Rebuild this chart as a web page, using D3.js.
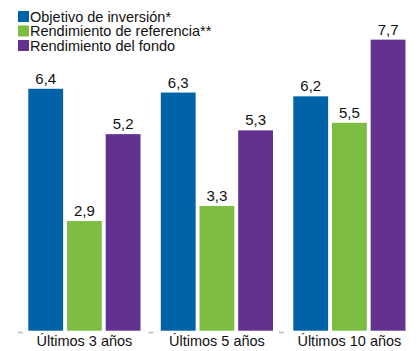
<!DOCTYPE html>
<html>
<head>
<meta charset="utf-8">
<script src="https://cdn.jsdelivr.net/npm/d3@7"></script>
<style>
  body { margin: 0; background: #fff; }
  text { font-family: "Liberation Sans", Arial, sans-serif; fill: #111; }
</style>
</head>
<body>
<svg id="chart" width="417" height="351"></svg>
<script>
// periods on the x axis
const periods = ['Últimos 3 años', 'Últimos 5 años', 'Últimos 10 años'];
// series names (legend order)
const seriesNames = ['Objetivo de inversión*', 'Rendimiento de referencia**', 'Rendimiento del fondo'];
const seriesColors = ['#0062a7', '#7dbd42', '#633290'];
// values per series, one per period
const objetivo = [6.4, 6.3, 6.2];
const referencia = [2.9, 3.3, 5.5];
const fondo = [5.2, 5.3, 7.7];

const seriesValues = [objetivo, referencia, fondo];
const fmt = v => d3.format('.1f')(v).replace('.', ',');

const svg = d3.select('#chart');

// scales
const x0 = d3.scaleBand().domain(periods).range([20.5, 418]);
const x1 = d3.scaleBand().domain(d3.range(seriesNames.length))
  .range([7.8, 120]).paddingInner(0.1);
const y = d3.scaleLinear().domain([0, 8]).range([330.7, 28.3]);

// bars, grouped by period
const groups = svg.append('g').selectAll('g.period')
  .data(periods)
  .join('g')
  .attr('class', 'period')
  .attr('transform', d => `translate(${x0(d)},0)`);

const cells = groups.selectAll('g.cell')
  .data((p, i) => seriesValues.map((vals, s) => ({ s, v: vals[i] })))
  .join('g')
  .attr('class', 'cell');

cells.append('rect')
  .attr('x', d => x1(d.s))
  .attr('y', d => y(d.v))
  .attr('width', x1.bandwidth())
  .attr('height', d => y(0) - y(d.v))
  .attr('fill', d => seriesColors[d.s]);

// value labels with a white box behind
const labels = cells.append('g')
  .attr('transform', d => `translate(${x1(d.s) + x1.bandwidth() / 2},${y(d.v) - 5})`);
labels.append('rect')
  .attr('x', -19).attr('y', -18)
  .attr('width', 38).attr('height', 21)
  .attr('fill', '#fff');
labels.append('text')
  .attr('text-anchor', 'middle')
  .style('font-size', '15px')
  .text(d => fmt(d.v));

// bottom axis: small grey stubs at the group boundaries, labels centred
svg.append('g').selectAll('line')
  .data(periods)
  .join('line')
  .attr('x1', (d, i) => x0(d) - 2.5 - i * 2)
  .attr('x2', (d, i) => x0(d) + 2.5 - i * 2)
  .attr('y1', 332.5)
  .attr('y2', 332.5)
  .attr('stroke', '#c8c8c8')
  .attr('stroke-width', 2);

svg.append('g').selectAll('text')
  .data(periods)
  .join('text')
  .attr('x', d => x0(d) + (x1.range()[0] + x1.range()[1]) / 2)
  .attr('y', 346)
  .attr('text-anchor', 'middle')
  .style('font-size', '14.5px')
  .text(d => d);

// legend
const legend = svg.append('g').selectAll('g')
  .data(seriesNames)
  .join('g')
  .attr('transform', (d, i) => `translate(18,${11 + i * 14.5})`);
legend.append('rect')
  .attr('width', 11).attr('height', 11)
  .attr('fill', (d, i) => seriesColors[i]);
legend.append('text')
  .attr('x', 12)
  .attr('y', 10.5)
  .style('font-size', '14.5px')
  .text(d => d);
</script>
</body>
</html>
